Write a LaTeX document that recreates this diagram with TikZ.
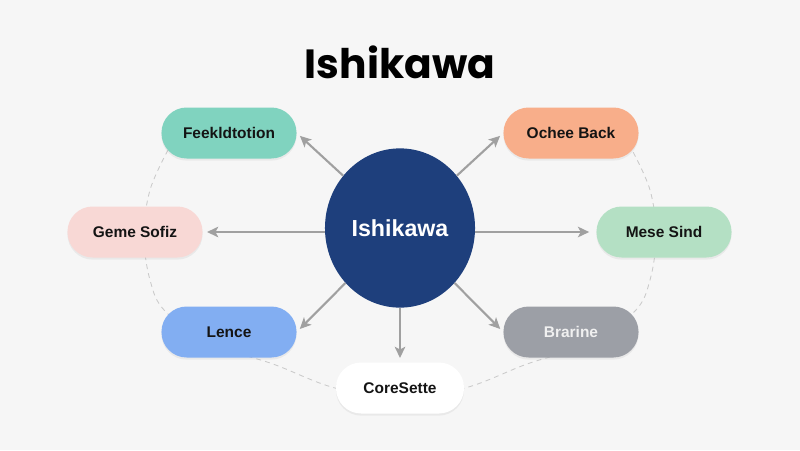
\documentclass[tikz,border=0pt]{standalone}
\usepackage{fontspec}
\setmainfont{Liberation Sans}
\newfontfamily\titlefont{Poppins}
\usepackage{xcolor}
\usetikzlibrary{arrows.meta, shapes.geometric, shadows}

\definecolor{bgGray}{HTML}{F6F6F6}
\definecolor{hubBlue}{HTML}{1E3F7C}
\definecolor{tealFill}{HTML}{80D3BF}
\definecolor{salmonFill}{HTML}{F8AE8A}
\definecolor{pinkFill}{HTML}{F8D8D5}
\definecolor{mintFill}{HTML}{B4E0C4}
\definecolor{skyFill}{HTML}{82AEF2}
\definecolor{slateFill}{HTML}{9C9FA6}
\definecolor{linkGray}{HTML}{A0A0A0}
\definecolor{ringGray}{HTML}{CACACA}
\definecolor{inkDark}{HTML}{141414}

\begin{document}
\begin{tikzpicture}[x=0.025cm, y=-0.025cm,
    pill/.style={rectangle, rounded corners=0.63cm, minimum width=3.375cm,
        minimum height=1.275cm, text=inkDark,
        font=\bfseries\fontsize{11}{13}\selectfont,
        drop shadow={shadow xshift=0pt, shadow yshift=-1.5pt, opacity=0.10}},
    link/.style={draw=linkGray, line width=1.5pt,
        -{Stealth[length=8pt, width=7.5pt, inset=2pt]}, shorten >=3pt},
    ring/.style={draw=ringGray, line width=0.6pt, dash pattern=on 3.5pt off 3pt}]
    % background and frame
    \fill[bgGray] (0,0) rectangle (800,450);
    \useasboundingbox (0,0) rectangle (800,450);

    % dashed ring behind the boxes
    \draw[ring] plot[smooth, tension=0.6] coordinates {(168,150) (150,190)
        (144,235) (150,280) (166,312) (215,345) (273,364) (335,388) (400,398)
        (465,388) (527,364) (585,345) (634,312) (650,280) (656,235) (650,190)
        (632,150)};

    % title
    \node (title) at (400,62) {\titlefont\bfseries\fontsize{29}{34}\selectfont Ishikawa};

    % hub
    \node[ellipse, fill=hubBlue, minimum width=3.58cm, minimum height=3.98cm,
        text=white, font=\bfseries\fontsize{16.5}{20}\selectfont] (hub) at (400,228) {Ishikawa};

    % boxes round the hub
    \node[pill, fill=tealFill] (feed) at (229,133) {Feekldtotion};
    \node[pill, fill=salmonFill] (ochee) at (571,133) {Ochee Back};
    \node[pill, fill=pinkFill] (geme) at (135,232) {Geme Sofiz};
    \node[pill, fill=mintFill] (mese) at (664,232) {Mese Sind};
    \node[pill, fill=skyFill] (lence) at (229,332) {Lence};
    \node[pill, fill=slateFill, text=white!94!black] (brarine) at (571,332) {Brarine};
    \node[pill, fill=white, minimum width=3.2cm] (core) at (400,388) {CoreSette};

    % arrows out of the hub
    \draw[link] (hub) -- (feed.east);
    \draw[link] (hub) -- (ochee.west);
    \draw[link] (hub.west |- geme.east) -- (geme.east);
    \draw[link, shorten >=5pt] (hub.east |- mese.west) -- (mese.west);
    \draw[link] (hub) -- (lence.east);
    \draw[link] (hub) -- (brarine.west);
    \draw[link] (hub) -- (core.north);
\end{tikzpicture}
\end{document}
